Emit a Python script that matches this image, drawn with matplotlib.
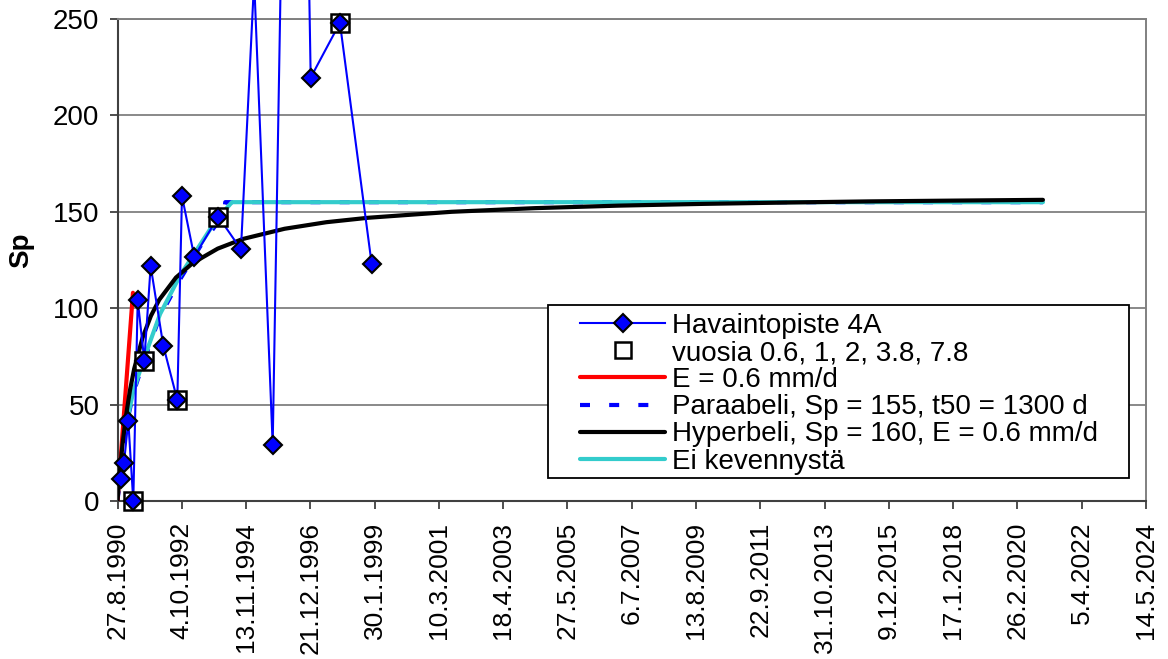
import datetime as dt
import numpy as np
import matplotlib
matplotlib.use('Agg')
import matplotlib.pyplot as plt
import matplotlib.dates as mdates
from matplotlib.lines import Line2D
from matplotlib.patches import Rectangle

plt.rcParams['font.family'] = ['Liberation Sans', 'DejaVu Sans']

start = dt.date(1990, 8, 27)

# Havaintopiste 4A: days after 27.8.1990 and Sp
obs_days = [38, 78, 129, 189, 242, 321, 397, 548, 716, 772, 919, 1207, 1478,
            1636, 1858, 2125, 2313, 2663, 3043]
obs_sp = [11.4, 19.9, 41.6, 0, 104.3, 72.8, 121.9, 80.6, 52.4, 158.2, 126.7,
          147.5, 130.5, 270, 29, 700, 219.6, 248, 123]
# points at 0.6, 1, 2, 3.8, 7.8 years (marked with square)
sq_idx = [3, 5, 8, 11, 17]

# E = 0.6 mm/d
red_days = [0, 185]
red_sp = [0, 108]

# Paraabeli, Sp = 155
para_days = [0, 90, 190, 310, 510, 750, 990, 1210, 1280, 1290, 11080]
para_sp = [0, 36, 56, 72, 96, 115, 132, 145, 150, 155, 155]

# Hyperbeli, Sp = 160
hyp_days = [0, 15, 30, 60, 100, 150, 200, 300, 400, 500, 700, 900, 1200, 1500,
            2000, 2500, 3000, 4000, 5000, 6000, 7000, 8000, 9000, 10000, 11080]
hyp_sp = [0, 8.5, 16.2, 29.4, 43.6, 57.6, 68.6, 84.7, 96.0, 104.4, 115.9, 123.4,
          130.9, 135.9, 141.2, 144.6, 146.9, 150.0, 151.9, 153.2, 154.1, 154.8,
          155.4, 155.8, 156.2]

# Ei kevennystä
cyan_days = [90, 190, 310, 510, 750, 870, 990, 1110, 1210, 1290, 1370, 11080]
cyan_sp = [37, 57, 73, 97, 117, 125, 133, 141, 146, 151, 155, 155]

tick_labels = ['27.8.1990', '4.10.1992', '13.11.1994', '21.12.1996', '30.1.1999',
               '10.3.2001', '18.4.2003', '27.5.2005', '6.7.2007', '13.8.2009',
               '22.9.2011', '31.10.2013', '9.12.2015', '17.1.2018', '26.2.2020',
               '5.4.2022', '14.5.2024']

legend_labels = ['Havaintopiste 4A', 'vuosia 0.6, 1, 2, 3.8, 7.8', 'E = 0.6 mm/d',
                 'Paraabeli, Sp = 155, t50 = 1300 d',
                 'Hyperbeli, Sp = 160, E = 0.6 mm/d', 'Ei kevennystä']

t0 = mdates.date2num(start)
def tx(days):
    return t0 + np.array(days, dtype=float)

tick_pos = [mdates.date2num(dt.datetime.strptime(s, '%d.%m.%Y')) for s in tick_labels]

W, H = 1168, 659
fig = plt.figure(figsize=(W / 100, H / 100), dpi=100)
ax = fig.add_axes([117.5 / W, 1 - 501 / H, 1028.5 / W, 482 / H])

blue = '#0000FF'
cyan = '#33CCCC'

ax.plot(tx(para_days), para_sp, color=blue, lw=3, ls=(0, (2.4, 4.6)), zorder=2)
ax.plot(tx(cyan_days), cyan_sp, color=cyan, lw=3, zorder=3, solid_capstyle='round')
ax.plot(tx(red_days), red_sp, color='#FF0000', lw=3, zorder=3.5, solid_capstyle='round')
ax.plot(tx(hyp_days), hyp_sp, color='k', lw=3, zorder=4, solid_capstyle='round')
ax.plot(tx(obs_days), obs_sp, color=blue, lw=1.5, zorder=5, clip_on=False)
sq_x = [obs_days[i] for i in sq_idx]
sq_y = [obs_sp[i] for i in sq_idx]
ax.plot(tx(sq_x), sq_y, ls='none', marker='s', ms=13, mfc='w', mec='k', mew=1.8,
        zorder=6, clip_on=False)
ax.plot(tx(obs_days), obs_sp, ls='none', marker='D', ms=9, mfc=blue, mec='k',
        mew=1.5, zorder=7, clip_on=False)

ax.set_xlim(tick_pos[0], tick_pos[-1])
ax.set_ylim(0, 250)
ax.set_yticks(range(0, 251, 50))
ax.set_xticks(tick_pos)
ax.set_xticklabels(tick_labels, rotation=90)
ax.yaxis.grid(True, color='#808080', lw=1.3)
ax.set_axisbelow(True)

for s in ['left', 'bottom']:
    ax.spines[s].set_color('#404040')
    ax.spines[s].set_linewidth(1.5)
for s in ['top', 'right']:
    ax.spines[s].set_color('#808080')
    ax.spines[s].set_linewidth(1.4)

ax.tick_params(axis='both', direction='out', length=6, width=1.3, color='#404040')
ax.tick_params(axis='y', pad=7, labelsize=20)
ax.tick_params(axis='x', pad=9, labelsize=19)

fig.text(21 / W, 1 - 250 / H, 'Sp', rotation=90, ha='center', va='center',
         fontsize=20, fontweight='bold')

# legend frame
fig.add_artist(Rectangle((548 / W, 1 - 478 / H), 581 / W, 173 / H,
                         transform=fig.transFigure, fc='w', ec='k', lw=1.3, zorder=4))

handles = [
    Line2D([], [], color=blue, lw=1.5, marker='D', ms=9, mfc=blue, mec='k', mew=1.5),
    Line2D([], [], ls='none', marker='s', ms=12, mfc='w', mec='k', mew=1.8),
    Line2D([], [], color='#FF0000', lw=3, solid_capstyle='round'),
    Line2D([], [], color=blue, lw=3, ls=(0, (2.4, 4.6))),
    Line2D([], [], color='k', lw=3, solid_capstyle='round'),
    Line2D([], [], color=cyan, lw=3, solid_capstyle='round'),
]
leg = fig.legend(handles, legend_labels, loc='upper left',
                 bbox_to_anchor=(580 / W, 1 - 313 / H), bbox_transform=fig.transFigure,
                 frameon=False, borderpad=0, borderaxespad=0, handlelength=3.06,
                 handletextpad=0.25, labelspacing=0.04, fontsize=20, numpoints=1)
leg.set_zorder(5)

fig.savefig('out.png', dpi=100)
